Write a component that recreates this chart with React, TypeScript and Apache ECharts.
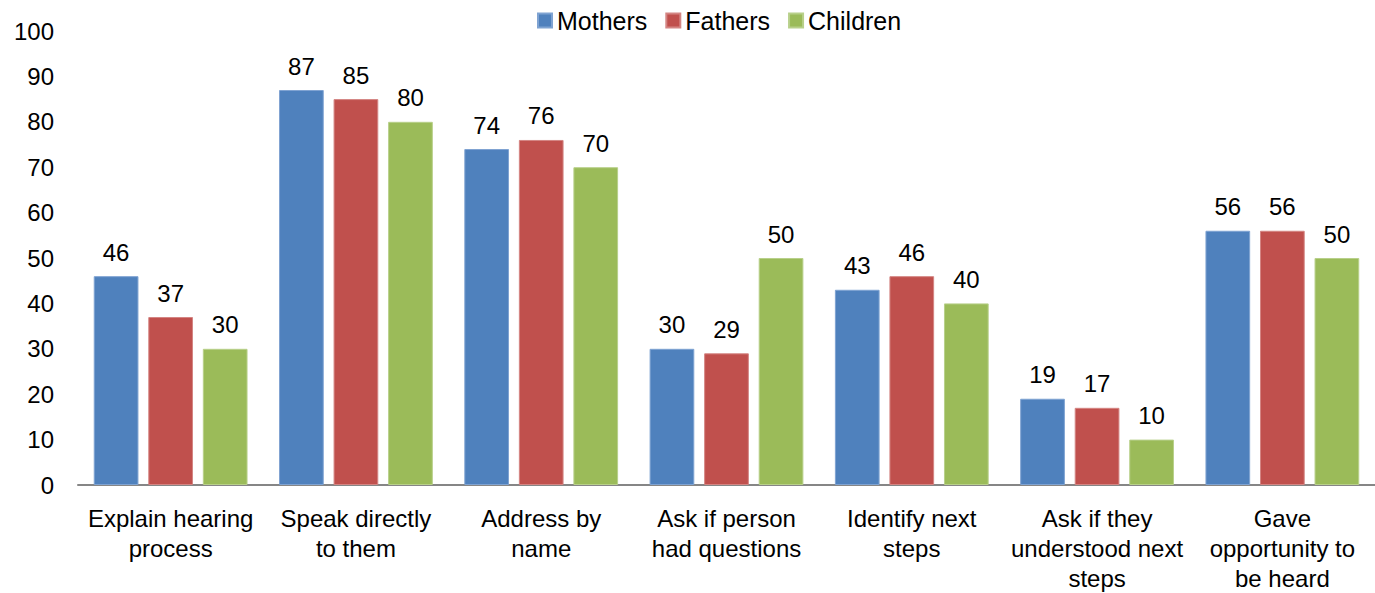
import React, { useEffect, useRef } from "react";
import * as echarts from "echarts";

const categories = [
  "Explain hearing\nprocess",
  "Speak directly\nto them",
  "Address by\nname",
  "Ask if person\nhad questions",
  "Identify next\nsteps",
  "Ask if they\nunderstood next\nsteps",
  "Gave\nopportunity to\nbe heard",
];
const mothers = [46, 87, 74, 30, 43, 19, 56];
const fathers = [37, 85, 76, 29, 46, 17, 56];
const children = [30, 80, 70, 50, 40, 10, 50];
const seriesNames = ["Mothers", "Fathers", "Children"];
const colors = ["#4F81BD", "#C0504D", "#9BBB59"];
const borderColors = ["#7FA3D2", "#D48583", "#B8D08A"];

const FONT = "'Liberation Sans', Arial, sans-serif";

export default function App() {
  const ref = useRef<HTMLDivElement>(null);
  useEffect(() => {
    document.body.style.margin = "0";
    if (!ref.current) return;
    const chart = echarts.init(ref.current, undefined, { renderer: "svg" });
    const data = [mothers, fathers, children];
    chart.setOption({
      animation: false,
      textStyle: { fontFamily: FONT },
      legend: {
        top: 3,
        left: 532,
        itemWidth: 14,
        itemHeight: 14,
        itemGap: 18,
        icon: "rect",
        textStyle: { fontSize: 25, color: "#000", fontFamily: FONT },
        data: seriesNames,
      },
      grid: { left: 78, right: 0, top: 31, bottom: 99, containLabel: false },
      xAxis: {
        type: "category",
        data: categories,
        axisLine: { lineStyle: { color: "#868686", width: 2 } },
        axisTick: { show: false },
        axisLabel: {
          interval: 0,
          fontSize: 24,
          lineHeight: 30,
          color: "#000",
          margin: 18,
          fontFamily: FONT,
        },
      },
      yAxis: {
        type: "value",
        min: 0,
        max: 100,
        interval: 10,
        splitLine: { show: false },
        axisLine: { show: false },
        axisTick: { show: false },
        axisLabel: { fontSize: 24, color: "#000", margin: 24, fontFamily: FONT },
      },
      series: seriesNames.map((name, i) => ({
        name,
        type: "bar",
        data: data[i],
        barGap: "22%",
        barCategoryGap: "17%",
        itemStyle: { color: colors[i], borderColor: borderColors[i], borderWidth: 1 },
        label: {
          show: true,
          position: "top",
          distance: 12,
          fontSize: 24,
          color: "#000",
          fontFamily: FONT,
        },
      })),
    });
    return () => chart.dispose();
  }, []);
  return <div ref={ref} style={{ width: 1375, height: 593 }} />;
}
